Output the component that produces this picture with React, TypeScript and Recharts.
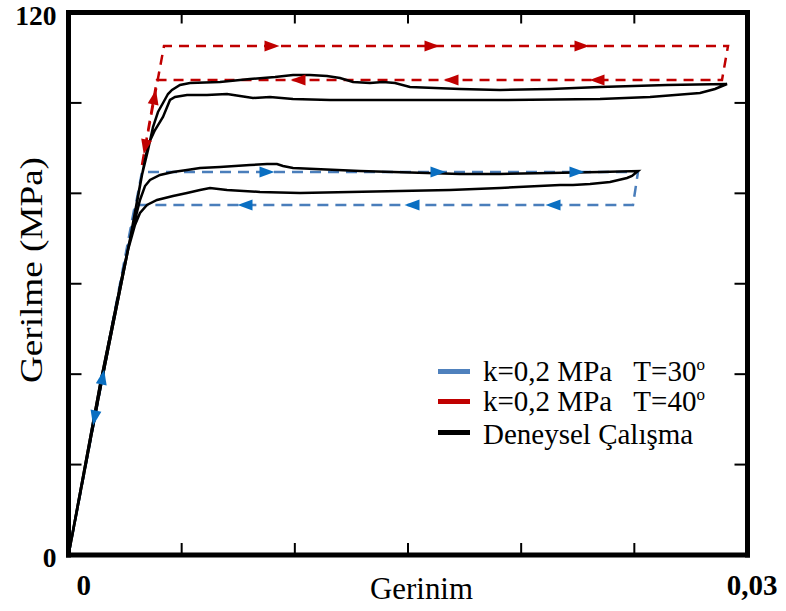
import React from 'react';
import { ComposedChart, Line, Scatter, XAxis, YAxis, Legend } from 'recharts';

// ---- data (strain, stress MPa) ----
const t30Model: [number, number][] = [
  [0, 0], [0.003247, 84.72], [0.025162, 84.72], [0.024941, 77.42], [0.002938, 77.42], [0, 0],
];
const t40Model: [number, number][] = [
  [0.003247, 86.27], [0.004219, 112.59], [0.029139, 112.59], [0.028873, 105.07], [0.00391, 105.07], [0.003247, 86.27],
];
const t30Arrows: [number, number, string][] = [
  [0.001511, 39.37, 'up'], [0.00877, 84.72, 'right'], [0.016326, 84.72, 'right'], [0.022467, 84.72, 'right'],
  [0.021407, 77.42, 'left'], [0.015177, 77.42, 'left'], [0.007798, 77.42, 'left'], [0.00115, 30.3, 'down'],
];
const t40Arrows: [number, number, string][] = [
  [0.003802, 101.31, 'up'], [0.008991, 112.59, 'right'], [0.016061, 112.59, 'right'], [0.022688, 112.59, 'right'],
  [0.023351, 105.07, 'left'], [0.0169, 105.07, 'left'], [0.01014, 105.07, 'left'], [0.003388, 90.25, 'down'],
];
const expT40: [number, number][] = [
  [0, 0], [0.001392, 37.6], [0.002364, 61.49], [0.002806, 71.89], [0.003247, 84.06], [0.003513, 89.59],
  [0.003733, 94.67], [0.003954, 97.99], [0.004175, 99.98], [0.004396, 101.97], [0.004573, 102.86],
  [0.004926, 103.96], [0.005368, 104.4], [0.006694, 104.63], [0.008019, 105.29], [0.009124, 105.73],
  [0.009919, 106.17], [0.01067, 106.17], [0.011421, 105.95], [0.011996, 105.51], [0.01257, 104.63],
  [0.013321, 104.4], [0.013896, 104.63], [0.014426, 104.4], [0.015088, 103.52], [0.017298, 103.08],
  [0.019065, 102.86], [0.021274, 103.08], [0.023483, 103.52], [0.026444, 103.96], [0.029095, 104.18],
  [0.028564, 103.08], [0.027902, 102.19], [0.025692, 101.31], [0.023483, 100.87], [0.019065, 100.65],
  [0.014647, 100.65], [0.011554, 100.65], [0.009919, 100.87], [0.008903, 101.31], [0.008152, 101.09],
  [0.007577, 101.53], [0.007003, 101.97], [0.006119, 101.75], [0.005236, 101.75], [0.004705, 101.31],
  [0.004485, 100.65], [0.004175, 96.89], [0.003822, 94.01], [0.003513, 90.69], [0.003159, 81.84],
  [0.002629, 67.47], [0.001392, 36.5], [0, 0],
];
const expT30: [number, number][] = [
  [0, 0], [0.001392, 37.6], [0.002364, 61.49], [0.002806, 71.45], [0.003159, 78.53], [0.00338, 81.62],
  [0.003601, 82.95], [0.004043, 84.06], [0.004617, 84.72], [0.005236, 85.16], [0.00581, 85.6],
  [0.006694, 85.83], [0.008019, 86.27], [0.00877, 86.49], [0.009212, 86.49], [0.009477, 86.05],
  [0.009919, 85.6], [0.012879, 84.94], [0.01584, 84.5], [0.017298, 84.28], [0.019065, 84.28],
  [0.021274, 84.5], [0.023483, 84.72], [0.025162, 84.94],
  [0.024897, 83.84], [0.024676, 83.39], [0.023925, 82.51], [0.023041, 82.06], [0.02229, 81.84],
  [0.021716, 81.84], [0.019065, 81.18], [0.016856, 80.74], [0.014647, 80.52], [0.012438, 80.3],
  [0.010228, 80.07], [0.008461, 80.3], [0.007003, 80.74], [0.006252, 81.18], [0.00581, 80.74],
  [0.005236, 80.07], [0.004617, 79.41], [0.00391, 78.53], [0.003468, 77.42], [0.003159, 75.65],
  [0.002938, 73.0], [0.002629, 67.47], [0.001392, 36.5], [0, 0],
];

const xTicks = [0, 0.005, 0.01, 0.015, 0.02, 0.025, 0.03];
const xTickLabels = ['0', '', '', '', '', '', '0,03'];
const yTicks = [0, 20, 40, 60, 80, 100, 120];
const yTickLabels = ['0', '', '', '', '', '', '120'];

const legendLabels = ['k=0,2 MPa   T=30', 'k=0,2 MPa   T=40', 'Deneysel Çalışma'];
const legendSup = ['o', 'o', ''];
const legendColors = ['#4f81bd', '#c00000', '#000000'];

const xTitle = 'Gerinim';
const yTitle = 'Gerilme (MPa)';

// ---- styles ----
const FONT = '"Liberation Serif", "Times New Roman", serif';
const BLUE_LINE = '#4a7ebb';
const BLUE_ARROW = '#0a6fc2';
const RED = '#c00000';
const ARROW_ANGLE: Record<string, number> = { right: 0, left: 180, up: -79, down: 101 };

const toPts = (a: [number, number][]) => a.map(([x, y]) => ({ x, y }));
const toArrows = (a: [number, number, string][]) => a.map(([x, y, dir]) => ({ x, y, dir }));

function Arrow(props: any) {
  const { cx, cy, payload, fill } = props;
  if (cx == null || cy == null) return <g />;
  const a = (ARROW_ANGLE[payload.dir] * Math.PI) / 180;
  const L = 15, W = 11;
  const c = Math.cos(a), s = Math.sin(a);
  const tx = cx + (c * L) / 2, ty = cy + (s * L) / 2;
  const bx = cx - (c * L) / 2, by = cy - (s * L) / 2;
  const p1x = bx - (s * W) / 2, p1y = by + (c * W) / 2;
  const p2x = bx + (s * W) / 2, p2y = by - (c * W) / 2;
  return <polygon points={`${tx},${ty} ${p1x},${p1y} ${p2x},${p2y}`} fill={fill} />;
}

const BottomTick = (p: any) => {
  const { x, y, index } = p;
  const lab = xTickLabels[index];
  const isLast = index === xTicks.length - 1;
  return (
    <g>
      <line x1={x} y1={y} x2={x} y2={y - 12} stroke="#000" strokeWidth={2} />
      {lab ? (
        <text x={isLast ? x + 30 : x + 8} y={y + 40} textAnchor={isLast ? 'end' : 'start'}
          fontFamily={FONT} fontWeight="bold" fontSize={29} fill="#000">{lab}</text>
      ) : null}
    </g>
  );
};
const TopTick = (p: any) => {
  const { x, y } = p;
  return <line x1={x} y1={y} x2={x} y2={y + 11} stroke="#000" strokeWidth={2} />;
};
const LeftTick = (p: any) => {
  const { x, y, index } = p;
  const lab = yTickLabels[index];
  return (
    <g>
      <line x1={x} y1={y} x2={x + 13} y2={y} stroke="#000" strokeWidth={2} />
      {lab ? (
        <text x={x - 12} y={y + 12} textAnchor="end" fontFamily={FONT} fontWeight="bold" fontSize={27.5} fill="#000">{lab}</text>
      ) : null}
    </g>
  );
};
const RightTick = (p: any) => {
  const { x, y } = p;
  return <line x1={x} y1={y} x2={x - 13} y2={y} stroke="#000" strokeWidth={2} />;
};

const LegendBox = () => (
  <div style={{ fontFamily: FONT, fontSize: 29, color: '#000' }}>
    {legendLabels.map((l, i) => (
      <div key={i} style={{ display: 'flex', alignItems: 'center', height: 30.5, whiteSpace: 'pre', lineHeight: '30.5px' }}>
        <div style={{ width: 32, height: 5, background: legendColors[i], marginTop: -4 }} />
        <span style={{ marginLeft: 13 }}>
          {l}
          {legendSup[i] ? <span style={{ fontSize: 17, position: 'relative', top: -11 }}>{legendSup[i]}</span> : null}
        </span>
      </div>
    ))}
  </div>
);

const axisLine = { stroke: '#000', strokeWidth: 5, strokeLinecap: 'square' as const };

export default function App() {
  return (
    <div style={{ position: 'absolute', left: 0, top: 0, width: 786, height: 611, background: '#fff' }}>
      <ComposedChart width={786} height={611} margin={{ left: 67.5, top: 11.5, right: 37.5, bottom: 55 }}>
        <XAxis dataKey="x" type="number" domain={[0, 0.03]} ticks={xTicks} allowDataOverflow
          height={1} tickSize={0} tickMargin={0} tickLine={false} axisLine={axisLine} tick={<BottomTick />} interval={0} />
        <XAxis xAxisId="t" orientation="top" dataKey="x" type="number" domain={[0, 0.03]} ticks={xTicks} allowDataOverflow
          height={1} tickSize={0} tickMargin={0} tickLine={false} axisLine={axisLine} tick={<TopTick />} interval={0} />
        <YAxis type="number" domain={[0, 120]} ticks={yTicks} allowDataOverflow
          width={1} tickSize={0} tickMargin={0} tickLine={false} axisLine={axisLine} tick={<LeftTick />} interval={0} />
        <YAxis yAxisId="r" orientation="right" type="number" domain={[0, 120]} ticks={yTicks} allowDataOverflow
          width={1} tickSize={0} tickMargin={0} tickLine={false} axisLine={axisLine} tick={<RightTick />} interval={0} />

        <Line data={toPts(t30Model)} dataKey="y" type="linear" stroke={BLUE_LINE} strokeWidth={2.5}
          strokeDasharray="11 7" dot={false} isAnimationActive={false} legendType="none" />
        <Line data={toPts(t40Model)} dataKey="y" type="linear" stroke={RED} strokeWidth={2.5}
          strokeDasharray="10 7" dot={false} isAnimationActive={false} legendType="none" />
        <Line data={toPts(expT40)} dataKey="y" type="linear" stroke="#000" strokeWidth={2.5}
          dot={false} isAnimationActive={false} legendType="none" />
        <Line data={toPts(expT30)} dataKey="y" type="linear" stroke="#000" strokeWidth={2.5}
          dot={false} isAnimationActive={false} legendType="none" />
        <Scatter data={toArrows(t30Arrows)} dataKey="y" isAnimationActive={false} legendType="none"
          shape={(p: any) => <Arrow {...p} fill={BLUE_ARROW} />} />
        <Scatter data={toArrows(t40Arrows)} dataKey="y" isAnimationActive={false} legendType="none"
          shape={(p: any) => <Arrow {...p} fill={RED} />} />

        <Legend layout="vertical" align="center" verticalAlign="middle" content={() => <LegendBox />}
          wrapperStyle={{ position: 'absolute', left: 438, top: 358, width: 320, height: 92 }} />

        <text x={421.5} y={599} textAnchor="middle" fontFamily={FONT} fontSize={32} fill="#000"
          textLength={103} lengthAdjust="spacingAndGlyphs">{xTitle}</text>
        <text x={42} y={270} transform="rotate(-90 42 270)" textAnchor="middle" fontFamily={FONT} fontSize={31} fill="#000"
          textLength={226} lengthAdjust="spacingAndGlyphs">{yTitle}</text>
      </ComposedChart>
    </div>
  );
}
